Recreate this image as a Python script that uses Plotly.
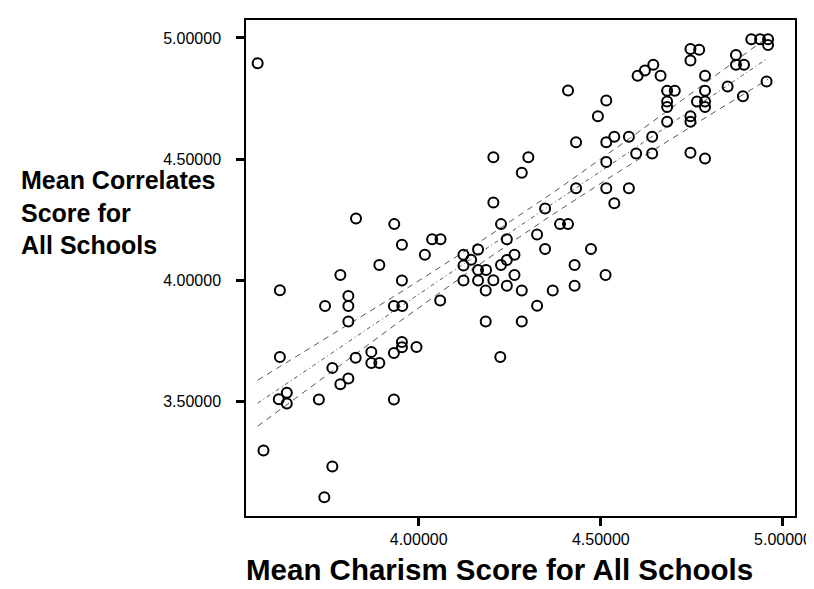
import numpy as np
import plotly.graph_objects as go

# Mean Charism Score (x) and Mean Correlates Score (y) for all schools
charism = [4.913, 4.937, 4.959, 4.959, 4.746, 4.770, 4.746, 4.871, 4.871, 4.893,
           4.644, 4.621, 4.601, 4.664, 4.786, 4.410, 4.848, 4.955, 4.682, 4.703,
           4.786, 4.515, 4.682, 4.682, 4.764, 4.786, 4.786, 4.890, 4.492, 4.746,
           4.746, 4.682, 4.432, 4.515, 4.537, 4.577, 4.641, 4.597, 4.641, 4.746,
           4.786, 4.515, 4.432, 4.515, 4.577, 4.537, 4.347, 4.388, 4.410, 4.325,
           4.347, 4.473, 4.513, 4.428, 4.428, 4.368, 4.325, 4.205, 4.301, 4.283,
           4.205, 3.828, 3.933, 4.226, 3.954, 4.037, 4.060, 4.242, 4.017, 4.123,
           4.144, 4.163, 4.263, 4.242, 3.892, 4.123, 4.226, 3.785, 4.163, 4.185,
           4.263, 3.954, 4.123, 4.163, 4.205, 4.242, 3.619, 4.184, 4.283, 3.807,
           4.059, 3.743, 3.807, 3.932, 3.955, 3.807, 4.184, 4.283, 3.954, 3.954,
           3.994, 3.932, 3.870, 3.619, 3.827, 4.224, 3.870, 3.892, 3.763, 3.807,
           3.785, 3.638, 3.616, 3.638, 3.726, 3.932, 3.574, 3.763, 3.741, 3.558]
correlates = [4.995, 4.995, 4.995, 4.971, 4.954, 4.951, 4.907, 4.930, 4.889, 4.889,
              4.889, 4.866, 4.844, 4.844, 4.844, 4.783, 4.800, 4.820, 4.782, 4.782,
              4.782, 4.742, 4.738, 4.715, 4.738, 4.738, 4.715, 4.759, 4.677, 4.677,
              4.654, 4.654, 4.570, 4.570, 4.592, 4.592, 4.592, 4.523, 4.523, 4.526,
              4.503, 4.488, 4.380, 4.380, 4.380, 4.318, 4.296, 4.232, 4.232, 4.189,
              4.129, 4.129, 4.022, 4.063, 3.978, 3.958, 3.895, 4.508, 4.508, 4.444,
              4.321, 4.255, 4.232, 4.232, 4.147, 4.170, 4.170, 4.170, 4.106, 4.106,
              4.085, 4.127, 4.106, 4.084, 4.063, 4.061, 4.063, 4.022, 4.043, 4.043,
              4.022, 3.999, 3.999, 3.999, 4.000, 3.978, 3.959, 3.958, 3.958, 3.936,
              3.917, 3.894, 3.894, 3.894, 3.894, 3.830, 3.830, 3.830, 3.746, 3.724,
              3.725, 3.700, 3.705, 3.684, 3.681, 3.684, 3.659, 3.659, 3.639, 3.595,
              3.571, 3.536, 3.510, 3.492, 3.509, 3.509, 3.298, 3.232, 3.105, 4.896]

x_ticks = [4.0, 4.5, 5.0]
y_ticks = [3.5, 4.0, 4.5, 5.0]
x_title = "Mean Charism Score for All Schools"
y_title = "Mean Correlates<br>Score for<br>All Schools"

# Linear fit with 95% confidence band for the mean
xa = np.array(charism)
ya = np.array(correlates)
n = len(xa)
slope, intercept = np.polyfit(xa, ya, 1)
resid = ya - (intercept + slope * xa)
s = np.sqrt(np.sum(resid ** 2) / (n - 2))
sxx = np.sum((xa - xa.mean()) ** 2)
t_crit = 1.98
xl = np.linspace(xa.min(), xa.max(), 60)
yl = intercept + slope * xl
se = s * np.sqrt(1.0 / n + (xl - xa.mean()) ** 2 / sxx)
upper = yl + t_crit * se
lower = yl - t_crit * se

fig = go.Figure()
line_col = "#555555"
fig.add_trace(go.Scatter(x=xl, y=upper, mode="lines",
                         line=dict(color=line_col, width=1, dash="6px,5px"), hoverinfo="skip"))
fig.add_trace(go.Scatter(x=xl, y=yl, mode="lines",
                         line=dict(color=line_col, width=1, dash="4px,3px,1px,3px"), hoverinfo="skip"))
fig.add_trace(go.Scatter(x=xl, y=lower, mode="lines",
                         line=dict(color=line_col, width=1, dash="6px,5px"), hoverinfo="skip"))
fig.add_trace(go.Scatter(x=charism, y=correlates, mode="markers",
                         marker=dict(symbol="circle-open", size=10, color="black",
                                     line=dict(width=2, color="black"))))

axis_common = dict(showline=True, mirror=True, linecolor="black", linewidth=1.5,
                   ticks="outside", ticklen=8, tickwidth=2.5, tickcolor="black",
                   showgrid=False, zeroline=False, tickformat=".5f",
                   ticklabeloverflow="allow",
                   tickfont=dict(family="Liberation Sans, Arial, sans-serif", size=16, color="black"))

fig.update_layout(
    width=814, height=589,
    margin=dict(l=238, r=12, t=10, b=81),
    paper_bgcolor="white", plot_bgcolor="white",
    showlegend=False,
    xaxis=dict(range=[3.526, 5.033], tickvals=x_ticks, **axis_common),
    yaxis=dict(range=[3.028, 5.074], tickvals=y_ticks, ticklabelstandoff=12, **axis_common),
)

fig.add_annotation(text="<b>" + y_title + "</b>", xref="paper", yref="paper",
                   x=-0.413, y=0.611, xanchor="left", yanchor="middle", align="left",
                   showarrow=False,
                   font=dict(family="Liberation Sans, Arial, sans-serif", size=25, color="black"))
fig.add_annotation(text="<b>" + x_title + "</b>", xref="paper", yref="paper",
                   x=0.462, y=-0.108, xanchor="center", yanchor="middle",
                   showarrow=False,
                   font=dict(family="Liberation Sans, Arial, sans-serif", size=29.5, color="black"))

fig.write_html("out.html")
